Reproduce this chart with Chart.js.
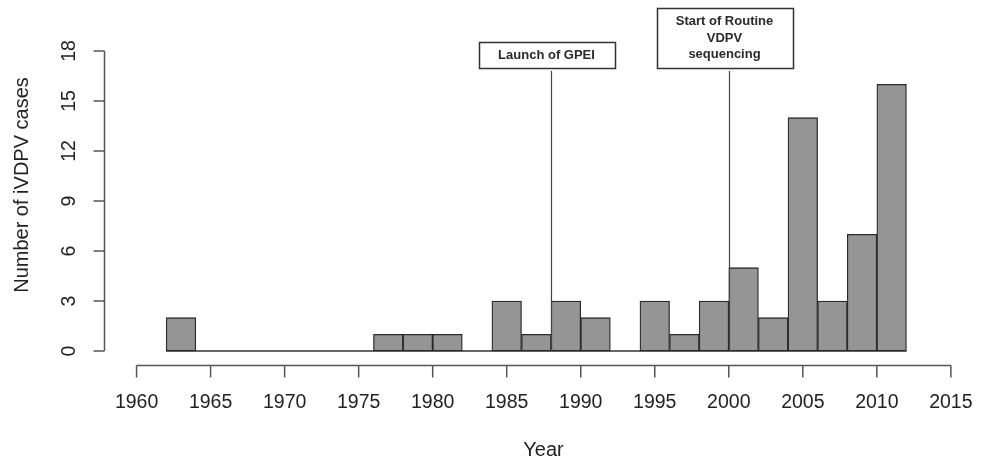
<!DOCTYPE html>
<html>
<head>
<meta charset="utf-8">
<script src="https://cdn.jsdelivr.net/npm/chart.js@4.4.1/dist/chart.umd.min.js"></script>
<style>
  html, body { margin: 0; padding: 0; background: #fff; }
  #wrap { width: 982px; height: 466px; }
</style>
</head>
<body>
<div id="wrap"><canvas id="chart" width="982" height="466"></canvas></div>
<script>
// two-year bins, start year of each bin
const binStarts = [1962, 1964, 1966, 1968, 1970, 1972, 1974, 1976, 1978, 1980, 1982, 1984, 1986,
  1988, 1990, 1992, 1994, 1996, 1998, 2000, 2002, 2004, 2006, 2008, 2010];
const binWidth = 2;
const cases = [2, 0, 0, 0, 0, 0, 0, 1, 1, 1, 0, 3, 1, 3, 2, 0, 3, 1, 3, 5, 2, 14, 3, 7, 16];

const xTicks = [1960, 1965, 1970, 1975, 1980, 1985, 1990, 1995, 2000, 2005, 2010, 2015];
const yTicks = [0, 3, 6, 9, 12, 15, 18];

const eventYears = [1988, 2000];
const eventLabels = [["Launch of GPEI"], ["Start of Routine", "VDPV", "sequencing"]];

const barPoints = binStarts.map((s, i) => ({ x: s + binWidth / 2, y: cases[i] }));
const baseline = [
  { x: binStarts[0], y: 0 },
  { x: binStarts[binStarts.length - 1] + binWidth, y: 0 }
];

const font = "'Liberation Sans', Arial, Helvetica, sans-serif";
const axisColor = "#555";
const textColor = "#222";

// R style axes, labels and the two annotations
const rAxes = {
  id: "rAxes",
  afterDraw(chart) {
    const ctx = chart.ctx;
    const xs = chart.scales.x, ys = chart.scales.y;
    const area = chart.chartArea;
    ctx.save();
    ctx.strokeStyle = axisColor;
    ctx.lineWidth = 1.5;
    ctx.fillStyle = textColor;

    // y axis
    const yAxisX = Math.round(area.left) + 0.5;
    const yTop = ys.getPixelForValue(yTicks[yTicks.length - 1]);
    const yBot = ys.getPixelForValue(yTicks[0]);
    ctx.beginPath();
    ctx.moveTo(yAxisX, yTop);
    ctx.lineTo(yAxisX, yBot);
    yTicks.forEach(t => {
      const p = ys.getPixelForValue(t);
      ctx.moveTo(yAxisX, p);
      ctx.lineTo(yAxisX - 11, p);
    });
    ctx.stroke();
    ctx.font = "19.5px " + font;
    ctx.textAlign = "center";
    ctx.textBaseline = "middle";
    yTicks.forEach(t => {
      const p = ys.getPixelForValue(t);
      ctx.save();
      ctx.translate(70, p);
      ctx.rotate(-Math.PI / 2);
      ctx.fillText(String(t), 0, 0);
      ctx.restore();
    });

    // x axis
    const xAxisY = Math.round(area.bottom) + 2.5;
    const xL = xs.getPixelForValue(xTicks[0]);
    const xR = xs.getPixelForValue(xTicks[xTicks.length - 1]);
    ctx.beginPath();
    ctx.moveTo(xL, xAxisY);
    ctx.lineTo(xR, xAxisY);
    xTicks.forEach(t => {
      const p = xs.getPixelForValue(t);
      ctx.moveTo(p, xAxisY);
      ctx.lineTo(p, xAxisY + 12);
    });
    ctx.stroke();
    xTicks.forEach(t => {
      ctx.fillText(String(t), xs.getPixelForValue(t), 403);
    });

    // axis titles
    ctx.font = "20px " + font;
    ctx.fillText("Year", (area.left + area.right) / 2 + 2, 450);
    ctx.save();
    ctx.translate(22, 185);
    ctx.rotate(-Math.PI / 2);
    ctx.fillText("Number of iVDPV cases", 0, 0);
    ctx.restore();

    // event lines and boxes
    ctx.font = "bold 13px " + font;
    const lineH = 16.5;
    eventYears.forEach((yr, i) => {
      const px = Math.round(xs.getPixelForValue(yr)) + 0.5;
      const lines = eventLabels[i];
      const boxBottom = 68;
      const boxH = lines.length === 1 ? 26 : 60;
      const boxTop = boxBottom - boxH;
      const boxW = 136;
      const cx = px - 5;
      ctx.strokeStyle = "#444";
      ctx.lineWidth = 1.2;
      ctx.beginPath();
      ctx.moveTo(px, boxBottom + 3);
      ctx.lineTo(px, ys.getPixelForValue(0));
      ctx.stroke();
      ctx.lineWidth = 1.5;
      ctx.strokeStyle = "#333";
      ctx.strokeRect(Math.round(cx - boxW / 2) + 0.5, boxTop + 0.5, boxW, boxH);
      ctx.fillStyle = "#2a2a2a";
      const startY = boxTop + boxH / 2 - (lines.length - 1) * lineH / 2;
      lines.forEach((ln, j) => ctx.fillText(ln, cx, startY + j * lineH));
    });
    ctx.restore();
  }
};

new Chart(document.getElementById("chart").getContext("2d"), {
  type: "bar",
  data: {
    datasets: [
      {
        type: "line",
        data: baseline,
        borderColor: "#333",
        borderWidth: 1.5,
        pointRadius: 0,
        fill: false,
        order: 2
      },
      {
        data: barPoints,
        backgroundColor: "#959595",
        borderColor: "#2b2b2b",
        borderWidth: 1.3,
        borderSkipped: false,
        barPercentage: 1,
        categoryPercentage: 1,
        order: 1
      }
    ]
  },
  options: {
    responsive: false,
    animation: false,
    events: [],
    layout: { padding: { left: 104, right: 3, top: 39, bottom: 103 } },
    plugins: { legend: { display: false }, tooltip: { enabled: false } },
    scales: {
      x: { type: "linear", display: false, offset: false, min: 1957.8, max: 2016.9 },
      y: { display: false, min: -0.72, max: 18.72 }
    }
  },
  plugins: [rAxes]
});
</script>
</body>
</html>
